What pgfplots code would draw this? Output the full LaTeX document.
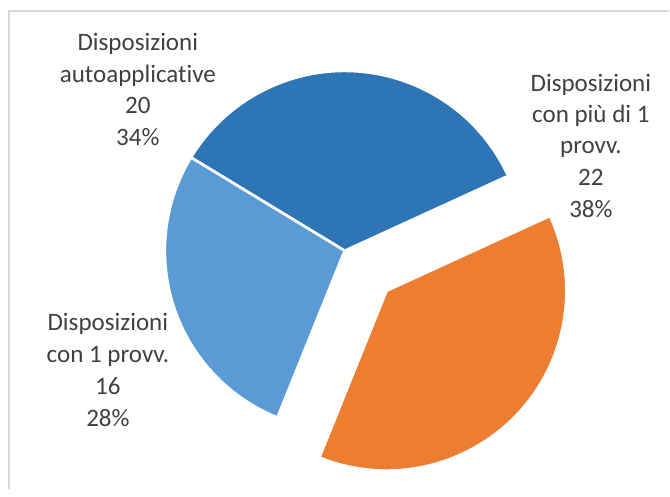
\documentclass[border=0pt]{standalone}
\usepackage{pgfplots}
\pgfplotsset{compat=1.18}
\usepackage{fontspec}
\setmainfont{Carlito}[Ligatures={NoCommon}]
\definecolor{darkblue}{HTML}{2E75B6}
\definecolor{lightblue}{HTML}{5B9BD5}
\definecolor{pieorange}{HTML}{ED7D31}
\definecolor{txt}{HTML}{404040}
\definecolor{framegray}{HTML}{D9D9D9}
\begin{document}
\begin{tikzpicture}
% values
\def\vA{20}% Disposizioni autoapplicative
\def\vB{16}% Disposizioni con 1 provv.
\def\vC{22}% Disposizioni con piu di 1 provv.
\pgfmathsetmacro\tot{\vA+\vB+\vC}
\pgfmathsetmacro\aS{24.6}
\pgfmathsetmacro\aE{\aS+360*\vA/\tot}
\pgfmathsetmacro\bE{\aE+360*\vB/\tot}
\pgfmathsetmacro\cE{\bE+360*\vC/\tot}
\pgfmathsetmacro\cM{(\bE+\cE)/2}
\begin{axis}[scale only axis, width=502.5pt, height=366.75pt,
  xmin=0, xmax=670, ymin=0, ymax=489, hide axis, clip=false]
\path (axis cs:0,0) rectangle (axis cs:670,489);
\draw[framegray, line width=1pt] (axis cs:9,0) -- (axis cs:9,478) -- (axis cs:670,478);
% slices
\fill[darkblue, draw=white, line width=2pt] (axis cs:345,238) -- ++(\aS:135pt)
  arc[start angle=\aS, end angle=\aE, radius=135pt] -- cycle;
\fill[lightblue, draw=white, line width=2pt] (axis cs:345,238) -- ++(\aE:135pt)
  arc[start angle=\aE, end angle=\bE, radius=135pt] -- cycle;
\fill[pieorange, draw=white, line width=2pt] ([shift={(\cM:43.5pt)}]axis cs:345,238) -- ++(\bE:135pt)
  arc[start angle=\bE, end angle=\cE, radius=135pt] -- cycle;
% labels
\tikzset{lab/.style={anchor=base, text=txt, inner sep=0pt, font=\fontsize{18.8}{24}\selectfont}}
\node[lab] at (axis cs:138,438) {Disposizioni};
\node[lab] at (axis cs:138,406) {autoapplicative};
\node[lab] at (axis cs:138,375) {\vA};
\node[lab] at (axis cs:138,343) {34\%};
\node[lab] at (axis cs:591.5,397) {Disposizioni};
\node[lab] at (axis cs:591.5,366) {con più di 1};
\node[lab] at (axis cs:591.5,335) {provv.};
\node[lab] at (axis cs:591.5,303) {\vC};
\node[lab] at (axis cs:591.5,271) {38\%};
\node[lab] at (axis cs:108,158) {Disposizioni};
\node[lab] at (axis cs:108,126) {con 1 provv.};
\node[lab] at (axis cs:108,94) {\vB};
\node[lab] at (axis cs:108,62) {28\%};
\end{axis}
\end{tikzpicture}
\end{document}
